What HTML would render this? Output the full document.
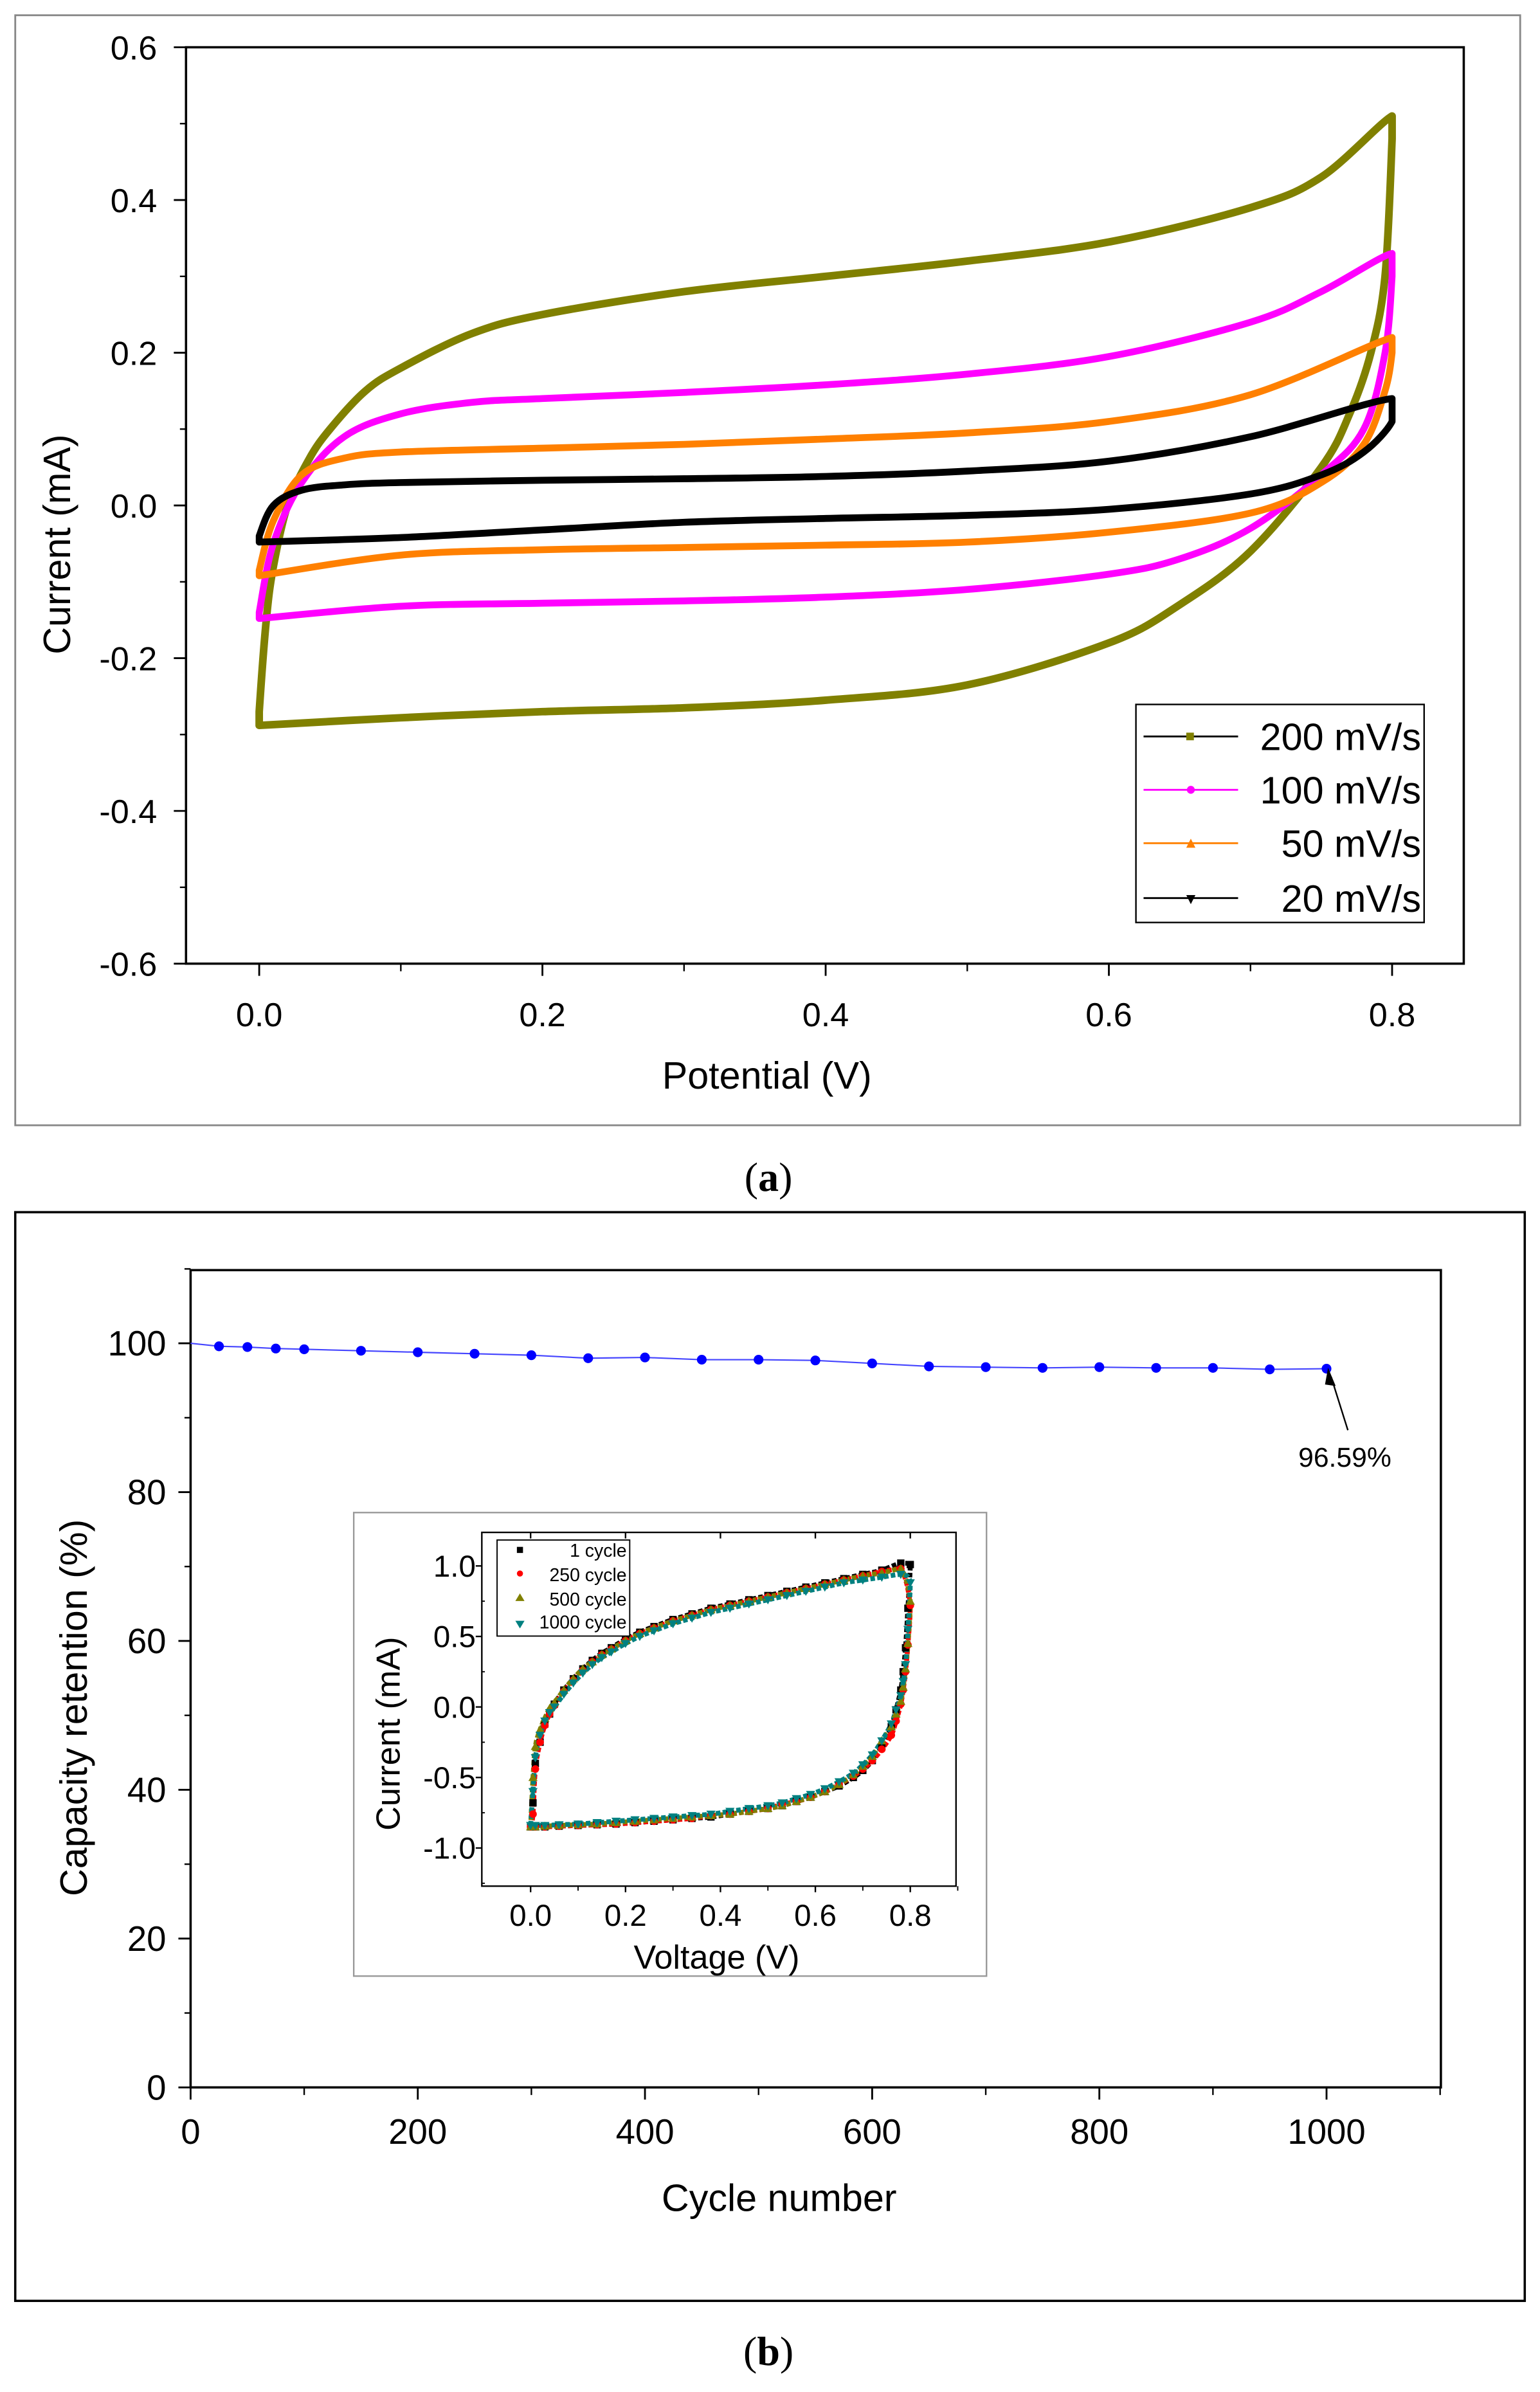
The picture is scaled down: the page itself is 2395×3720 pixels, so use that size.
<!DOCTYPE html>
<html><head><meta charset="utf-8"><style>
html,body{margin:0;padding:0;background:#fff}
svg{display:block}
text{font-family:"Liberation Sans",Arial,sans-serif;fill:#000}
.serif{font-family:"Liberation Serif",serif}
</style></head><body>
<svg id="fig" width="2395" height="3720" viewBox="0 0 1010 1568.77" xmlns="http://www.w3.org/2000/svg">
<g id="pa">
<rect x="10" y="10" width="987" height="728" fill="none" stroke="#888" stroke-width="1.2"/>
<rect x="122" y="31" width="838" height="601" fill="none" stroke="#000" stroke-width="1.5"/>
<text transform="translate(46,357) rotate(-90)" text-anchor="middle" font-size="25">Current (mA)</text>
<text x="503" y="714" text-anchor="middle" font-size="25">Potential (V)</text>
<g id="paTicks"></g><g id="paCurves"></g>
<g>
<rect x="745" y="462" width="189" height="143" fill="#fff" stroke="#000" stroke-width="1"/>
<g><line x1="750" y1="483" x2="812" y2="483" stroke="#000" stroke-width="1.2"/><rect x="778" y="480.5" width="5" height="5" fill="#808000"/><text x="932" y="492" text-anchor="end" font-size="25">200 mV/s</text></g>
<g><line x1="750" y1="518" x2="812" y2="518" stroke="#ff00ff" stroke-width="1.2"/><circle cx="781" cy="518" r="2.6" fill="#ff00ff"/><text x="932" y="527" text-anchor="end" font-size="25">100 mV/s</text></g>
<g><line x1="750" y1="553" x2="812" y2="553" stroke="#ff8000" stroke-width="1.2"/><path d="M781,550 L784,556 L778,556Z" fill="#ff8000"/><text x="932" y="562" text-anchor="end" font-size="25">50 mV/s</text></g>
<g><line x1="750" y1="589" x2="812" y2="589" stroke="#000" stroke-width="1.2"/><path d="M778,587 L784,587 L781,593Z" fill="#000"/><text x="932" y="598" text-anchor="end" font-size="25">20 mV/s</text></g>
</g>
</g>
<text class="serif" x="504" y="781" text-anchor="middle" font-size="27">(<tspan font-weight="bold">a</tspan>)</text>

<g id="pb">
<rect x="10" y="795" width="990" height="714" fill="none" stroke="#000" stroke-width="1.5"/>
<rect x="125" y="833" width="820" height="536" fill="none" stroke="#000" stroke-width="1.5"/>
<text transform="translate(57,1120) rotate(-90)" text-anchor="middle" font-size="25">Capacity retention (%)</text>
<text x="511" y="1450" text-anchor="middle" font-size="25">Cycle number</text>
<g id="pbTicks"></g><g id="pbSeries"></g>
<g>
<line x1="884" y1="938" x2="873" y2="903" stroke="#000" stroke-width="1"/>
<path d="M871,897 L876,909 L869,908Z" fill="#000"/>
<text x="882" y="962" text-anchor="middle" font-size="18">96.59%</text>
</g>
<g>
<rect x="232" y="992" width="415" height="304" fill="#fff" stroke="#999" stroke-width="1"/>
<rect x="316" y="1005" width="311" height="232" fill="none" stroke="#000" stroke-width="1"/>
<text transform="translate(262,1137) rotate(-90)" text-anchor="middle" font-size="22">Current (mA)</text>
<text x="470" y="1291" text-anchor="middle" font-size="22">Voltage (V)</text>
<g id="inTicks"></g><g id="inSeries"></g>
<g>
<rect x="326" y="1010" width="87" height="63" fill="#fff" stroke="#000" stroke-width="0.8"/>
<rect x="339" y="1014.5" width="4" height="4" fill="#000"/><text x="411" y="1021" text-anchor="end" font-size="12">1   cycle</text>
<circle cx="341" cy="1032" r="2" fill="#ff0000"/><text x="411" y="1037" text-anchor="end" font-size="12">250 cycle</text>
<path d="M341,1045 L344,1050 L338,1050Z" fill="#808000"/><text x="411" y="1053" text-anchor="end" font-size="12">500 cycle</text>
<path d="M338,1063 L344,1063 L341,1068Z" fill="#008080"/><text x="411" y="1068" text-anchor="end" font-size="12">1000 cycle</text>
</g>
</g>
</g>
<text class="serif" x="504" y="1551" text-anchor="middle" font-size="27">(<tspan font-weight="bold">b</tspan>)</text>
</svg>
<script>
const NS="http://www.w3.org/2000/svg";
// ---- Panel (a) data ----
const cvTicksX=[0.0,0.2,0.4,0.6,0.8];
const cvTicksY=[0.6,0.4,0.2,0.0,-0.2,-0.4,-0.6];
const cvTickLabelsY=["0.6","0.4","0.2","0.0","-0.2","-0.4","-0.6"];
const cvTickLabelsX=["0.0","0.2","0.4","0.6","0.8"];
const v200=[0,0,0.005,0.01,0.02,0.035,0.05,0.075,0.1,0.15,0.2,0.3,0.4,0.5,0.6,0.7,0.75,0.8,0.8,0.795,0.785,0.77,0.75,0.7,0.65,0.6,0.5,0.4,0.3,0.2,0.1,0,0];
const i200=[-0.288,-0.27,-0.15,-0.08,0.0,0.06,0.1,0.15,0.18,0.225,0.25,0.28,0.30,0.32,0.345,0.39,0.43,0.51,0.48,0.3,0.2,0.12,0.05,-0.06,-0.13,-0.18,-0.235,-0.255,-0.265,-0.27,-0.278,-0.288,-0.288];
const v100=[0,0,0.01,0.03,0.06,0.1,0.15,0.2,0.3,0.4,0.5,0.6,0.7,0.75,0.8,0.8,0.795,0.78,0.75,0.7,0.65,0.6,0.5,0.4,0.3,0.2,0.1,0,0];
const i100=[-0.148,-0.14,-0.05,0.03,0.09,0.12,0.135,0.14,0.148,0.158,0.172,0.195,0.24,0.28,0.33,0.3,0.2,0.1,0.04,-0.03,-0.07,-0.09,-0.11,-0.12,-0.125,-0.128,-0.132,-0.148,-0.148];
const v50=[0,0,0.01,0.03,0.06,0.1,0.2,0.3,0.4,0.5,0.6,0.7,0.8,0.8,0.795,0.78,0.75,0.7,0.6,0.5,0.4,0.3,0.2,0.1,0,0];
const i50=[-0.092,-0.085,-0.02,0.04,0.062,0.07,0.075,0.08,0.087,0.095,0.11,0.145,0.22,0.2,0.15,0.08,0.03,-0.01,-0.035,-0.048,-0.052,-0.055,-0.058,-0.065,-0.092,-0.092];
const v20=[0,0,0.01,0.03,0.06,0.1,0.2,0.3,0.4,0.5,0.6,0.7,0.8,0.8,0.78,0.75,0.7,0.6,0.5,0.4,0.3,0.2,0.1,0,0];
const i20=[-0.048,-0.04,0.0,0.02,0.027,0.03,0.033,0.035,0.038,0.045,0.058,0.09,0.14,0.11,0.07,0.04,0.015,-0.005,-0.013,-0.017,-0.022,-0.032,-0.042,-0.048,-0.048];
// ---- Panel (b) data ----
const cycles=[0,25,50,75,100,150,200,250,300,350,400,450,500,550,600,650,700,750,800,850,900,950,1000];
const retention=[100,99.6,99.5,99.3,99.2,99.0,98.8,98.6,98.4,98.0,98.1,97.8,97.8,97.7,97.3,96.9,96.8,96.7,96.8,96.7,96.7,96.5,96.59];
const retTicksX=[0,200,400,600,800,1000];
const retTicksY=[0,20,40,60,80,100];
// ---- Inset data ----
const inTicksX=[0.0,0.2,0.4,0.6,0.8];
const inTicksY=[1.0,0.5,0.0,-0.5,-1.0];
const inTickLabelsY=["1.0","0.5","0.0","-0.5","-1.0"];
const inTickLabelsX=["0.0","0.2","0.4","0.6","0.8"];
const inV=[0,0.005,0.01,0.02,0.03,0.04,0.05,0.07,0.09,0.11,0.13,0.15,0.17,0.2,0.23,0.26,0.3,0.34,0.38,0.42,0.46,0.5,0.54,0.58,0.62,0.66,0.7,0.74,0.78,0.8,0.795,0.79,0.785,0.78,0.77,0.76,0.74,0.72,0.7,0.68,0.65,0.62,0.59,0.56,0.53,0.5,0.46,0.42,0.38,0.34,0.3,0.26,0.22,0.18,0.14,0.1,0.06,0.03,0.01];
const inC1=[-0.85,-0.68,-0.4,-0.25,-0.12,-0.05,0.02,0.12,0.2,0.27,0.33,0.38,0.42,0.48,0.53,0.57,0.62,0.66,0.70,0.73,0.76,0.79,0.82,0.85,0.88,0.91,0.94,0.97,1.02,1.01,0.7,0.42,0.25,0.12,-0.02,-0.14,-0.28,-0.38,-0.45,-0.5,-0.56,-0.6,-0.64,-0.67,-0.7,-0.72,-0.74,-0.76,-0.78,-0.79,-0.80,-0.81,-0.82,-0.83,-0.835,-0.84,-0.845,-0.85,-0.85];
const inC250=[-0.85,-0.76,-0.44,-0.25,-0.13,-0.05,0.01,0.11,0.19,0.26,0.32,0.37,0.41,0.47,0.52,0.56,0.61,0.65,0.69,0.72,0.75,0.78,0.81,0.84,0.87,0.90,0.93,0.96,0.98,0.72,0.44,0.25,0.12,0.02,-0.1,-0.2,-0.3,-0.38,-0.44,-0.49,-0.55,-0.6,-0.64,-0.67,-0.69,-0.72,-0.74,-0.76,-0.77,-0.79,-0.80,-0.81,-0.82,-0.83,-0.835,-0.84,-0.845,-0.85,-0.85];
const inC500=[-0.85,-0.5,-0.28,-0.16,-0.08,-0.01,0.03,0.12,0.2,0.27,0.32,0.37,0.41,0.47,0.52,0.56,0.61,0.65,0.69,0.72,0.75,0.78,0.81,0.84,0.87,0.9,0.93,0.95,0.98,0.75,0.45,0.27,0.14,0.04,-0.05,-0.14,-0.24,-0.35,-0.42,-0.48,-0.55,-0.6,-0.64,-0.67,-0.7,-0.72,-0.74,-0.76,-0.77,-0.78,-0.79,-0.8,-0.81,-0.82,-0.83,-0.835,-0.84,-0.845,-0.85];
const inC1000=[-0.84,-0.6,-0.36,-0.2,-0.1,-0.04,0.0,0.09,0.17,0.24,0.3,0.35,0.39,0.45,0.5,0.54,0.59,0.63,0.67,0.70,0.73,0.76,0.79,0.82,0.85,0.88,0.9,0.92,0.94,0.88,0.55,0.3,0.18,0.08,-0.02,-0.12,-0.24,-0.34,-0.41,-0.47,-0.53,-0.58,-0.62,-0.65,-0.68,-0.7,-0.72,-0.74,-0.76,-0.77,-0.78,-0.79,-0.8,-0.81,-0.82,-0.83,-0.835,-0.84,-0.84];

function lin(d0,d1,r0,r1){return v=>r0+(v-d0)*(r1-r0)/(d1-d0);}
function mk(tag,attrs,parent){const e=document.createElementNS(NS,tag);for(const k in attrs)e.setAttribute(k,attrs[k]);parent.appendChild(e);return e;}
function clamp(v,a,b){const lo=Math.min(a,b),hi=Math.max(a,b);return Math.max(lo,Math.min(hi,v));}
function smoothPath(pts){
 let d='M'+pts[0][0].toFixed(2)+','+pts[0][1].toFixed(2);
 for(let i=0;i<pts.length-1;i++){
  const p0=pts[Math.max(i-1,0)],p1=pts[i],p2=pts[i+1],p3=pts[Math.min(i+2,pts.length-1)];
  const t=6;
  const c1=[clamp(p1[0]+(p2[0]-p0[0])/t,p1[0],p2[0]),clamp(p1[1]+(p2[1]-p0[1])/t,p1[1],p2[1])];
  const c2=[clamp(p2[0]-(p3[0]-p1[0])/t,p1[0],p2[0]),clamp(p2[1]-(p3[1]-p1[1])/t,p1[1],p2[1])];
  d+=` C${c1[0].toFixed(2)},${c1[1].toFixed(2)} ${c2[0].toFixed(2)},${c2[1].toFixed(2)} ${p2[0].toFixed(2)},${p2[1].toFixed(2)}`;
 }
 return d;
}

// Panel a
const ax=lin(0,0.8,170,913), ay=lin(0.6,-0.6,31,632);
const gAT=document.getElementById('paTicks');
cvTicksY.forEach((t,k)=>{const y=ay(t);
 const tk=mk('line',{x1:114,y1:y,x2:122,y2:y,stroke:'#000','stroke-width':1.2},gAT);
 
 
 const lb=mk('text',{x:103,y:y+8,'text-anchor':'end','font-size':22},gAT);lb.textContent=cvTickLabelsY[k];
 
 
 if(k<cvTicksY.length-1){const ym=ay(t-0.1);mk('line',{x1:118,y1:ym,x2:122,y2:ym,stroke:'#000','stroke-width':1},gAT);}
});
cvTicksX.forEach((t,k)=>{const x=ax(t);
 const tk=mk('line',{x1:x,y1:632,x2:x,y2:640,stroke:'#000','stroke-width':1.2},gAT);
 
 
 const lb=mk('text',{x:x,y:673,'text-anchor':'middle','font-size':22},gAT);lb.textContent=cvTickLabelsX[k];
 
 
 if(k<cvTicksX.length-1){const xm=ax(t+0.1);mk('line',{x1:xm,y1:632,x2:xm,y2:637,stroke:'#000','stroke-width':1},gAT);}
});
const gC=document.getElementById('paCurves');
[[v200,i200,'#808000',5,'curve-200-mv-s'],[v100,i100,'#ff00ff',4.5,'curve-100-mv-s'],[v50,i50,'#ff8000',4.5,'curve-50-mv-s'],[v20,i20,'#000',4.5,'curve-20-mv-s']].forEach(s=>{
 const pts=s[0].map((v,k)=>[ax(v),ay(s[1][k])]);
 const p=mk('path',{d:smoothPath(pts),fill:'none',stroke:s[2],'stroke-width':s[3],'stroke-linejoin':'round','stroke-linecap':'round'},gC);
 
 
});

// Panel b
const bx=lin(0,1000,125,870), by=lin(0,100,1369,881);
const gBT=document.getElementById('pbTicks');
retTicksY.forEach((t,k)=>{const y=by(t);
 const tk=mk('line',{x1:117,y1:y,x2:125,y2:y,stroke:'#000','stroke-width':1.2},gBT);
 
 
 const lb=mk('text',{x:109,y:y+8,'text-anchor':'end','font-size':23},gBT);lb.textContent=String(t);
 
 
 mk('line',{x1:121,y1:by(t+10),x2:125,y2:by(t+10),stroke:'#000','stroke-width':1},gBT);
});
retTicksX.forEach((t,k)=>{const x=bx(t);
 const tk=mk('line',{x1:x,y1:1369,x2:x,y2:1377,stroke:'#000','stroke-width':1.2},gBT);
 
 
 const lb=mk('text',{x:x,y:1406,'text-anchor':'middle','font-size':23},gBT);lb.textContent=String(t);
 
 
 mk('line',{x1:bx(t+100),y1:1369,x2:bx(t+100),y2:1374,stroke:'#000','stroke-width':1},gBT);
});
const gBS=document.getElementById('pbSeries');
const rl=mk('path',{d:cycles.map((c,k)=>(k?'L':'M')+bx(c).toFixed(2)+','+by(retention[k]).toFixed(2)).join(' '),fill:'none',stroke:'#4444ff','stroke-width':0.9},gBS);


cycles.forEach((c,k)=>{if(k===0)return;
 const p=mk('circle',{cx:bx(c),cy:by(retention[k]),r:3.2,fill:'#0000ff'},gBS);
 
 
});

// Inset
const ix=lin(0,0.8,348,597), iy=lin(1.0,-1.0,1027,1212);
const gIT=document.getElementById('inTicks');
inTicksY.forEach((t,k)=>{const y=iy(t);
 const tk=mk('line',{x1:312,y1:y,x2:316,y2:y,stroke:'#000','stroke-width':1},gIT);
 
 
 const lb=mk('text',{x:312,y:y+7,'text-anchor':'end','font-size':20},gIT);lb.textContent=inTickLabelsY[k];
 
 
 mk('line',{x1:316,y1:iy(t-0.25),x2:318,y2:iy(t-0.25),stroke:'#000','stroke-width':0.8},gIT);
});
inTicksX.forEach((t,k)=>{const x=ix(t);
 const tk=mk('line',{x1:x,y1:1237,x2:x,y2:1241,stroke:'#000','stroke-width':1},gIT);
 
 
 mk('line',{x1:x,y1:1005,x2:x,y2:1009,stroke:'#000','stroke-width':1},gIT);
 const lb=mk('text',{x:x,y:1263,'text-anchor':'middle','font-size':20},gIT);lb.textContent=inTickLabelsX[k];
 
 
 mk('line',{x1:ix(t+0.1),y1:1237,x2:ix(t+0.1),y2:1240,stroke:'#000','stroke-width':0.8},gIT);
});
const gIS=document.getElementById('inSeries');
[[inC1,'#000'],[inC250,'#ff0000'],[inC500,'#808000'],[inC1000,'#008080']].forEach(s=>{
 const pts=inV.map((v,k)=>[ix(v),iy(s[0][k])]);
 const p=mk('path',{d:smoothPath(pts),fill:'none',stroke:s[1],'stroke-width':3.2,'stroke-dasharray':'3 1.5'},gIS);
 
 
});
function drawMarker(shape,x,y,col){
 if(shape==='sq')return mk('rect',{x:x-2.4,y:y-2.4,width:4.8,height:4.8,fill:col},gIS);
 if(shape==='ci')return mk('circle',{cx:x,cy:y,r:2.5,fill:col},gIS);
 if(shape==='up')return mk('path',{d:`M${x},${y-3}L${x+3},${y+2.3}L${x-3},${y+2.3}Z`,fill:col},gIS);
 return mk('path',{d:`M${x-3},${y-2.3}L${x+3},${y-2.3}L${x},${y+3}Z`,fill:col},gIS);
}
[[inC1,'sq','#000','cycle-1-point'],[inC250,'ci','#ff0000','cycle-250-point'],[inC500,'up','#808000','cycle-500-point'],[inC1000,'dn','#008080','cycle-1000-point']].forEach(s=>{
 s[0].forEach((c,k)=>{
  const m=drawMarker(s[1],ix(inV[k]),iy(c),s[2]);
  
  
 });
});
</script>
</body></html>
